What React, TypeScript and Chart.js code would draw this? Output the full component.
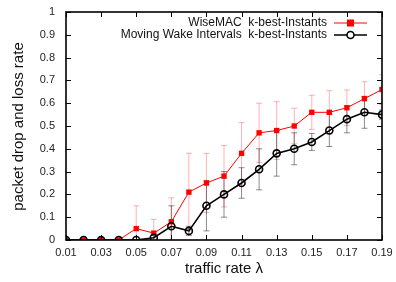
import React, { useEffect, useRef } from "react";
import { Chart, registerables } from "chart.js";
Chart.register(...registerables);

const rates = [0.01, 0.02, 0.03, 0.04, 0.05, 0.06, 0.07, 0.08, 0.09, 0.1, 0.11, 0.12, 0.13, 0.14, 0.15, 0.16, 0.17, 0.18, 0.19];
const wiseMAC = [0, 0, 0, 0, 0.05, 0.03, 0.08, 0.21, 0.25, 0.28, 0.38, 0.47, 0.48, 0.5, 0.56, 0.56, 0.58, 0.62, 0.66];
const wiseErr = [0, 0, 0, 0, 0.1, 0.06, 0.105, 0.17, 0.13, 0.135, 0.135, 0.13, 0.127, 0.078, 0.075, 0.095, 0.078, 0.074, 0.065];
const movingWake = [0, 0, 0, 0, 0, 0.01, 0.06, 0.04, 0.15, 0.2, 0.25, 0.31, 0.38, 0.4, 0.43, 0.48, 0.53, 0.56, 0.55];
const movingErr = [0, 0, 0.01, 0, 0, 0.01, 0.09, 0.02, 0.11, 0.1, 0.067, 0.09, 0.1, 0.07, 0.037, 0.07, 0.06, 0.07, 0.02];
const xTickValues = [0.01, 0.03, 0.05, 0.07, 0.09, 0.11, 0.13, 0.15, 0.17, 0.19];
const yTickValues = [0, 0.1, 0.2, 0.3, 0.4, 0.5, 0.6, 0.7, 0.8, 0.9, 1];
const seriesNames = ["WiseMAC  k-best-Instants", "Moving Wake Intervals  k-best-Instants"];
const xTitle = "traffic rate λ";
const yTitle = "packet drop and loss rate";

const FONT = "'Liberation Sans', Arial, Helvetica, sans-serif";
const RED = "#ff0000";
const RED_ERR = "rgba(255,0,0,0.3)";
const BLACK = "#000000";
const BLACK_ERR = "rgba(0,0,0,0.45)";

export default function App() {
  const ref = useRef<HTMLCanvasElement>(null);
  useEffect(() => {
    document.body.style.margin = "0";
    const canvas = ref.current;
    if (!canvas) return;

    const errPlugin = {
      id: "errbars",
      beforeDatasetsDraw(chart: any) {
        const { ctx, scales, chartArea } = chart;
        const x = scales.x, y = scales.y;
        ctx.save();
        ctx.beginPath();
        ctx.rect(chartArea.left, chartArea.top, chartArea.right - chartArea.left, chartArea.bottom - chartArea.top);
        ctx.clip();
        const draw = (vals: number[], errs: number[], color: string) => {
          ctx.strokeStyle = color;
          ctx.lineWidth = 1;
          for (let i = 0; i < rates.length; i++) {
            if (!errs[i]) continue;
            const px = x.getPixelForValue(rates[i]);
            const lo = vals[i] - errs[i];
            const hi = vals[i] + errs[i];
            const py1 = y.getPixelForValue(Math.max(0, lo));
            const py2 = y.getPixelForValue(hi);
            ctx.beginPath();
            ctx.moveTo(px, py1);
            ctx.lineTo(px, py2);
            ctx.moveTo(px - 3, py2);
            ctx.lineTo(px + 3, py2);
            if (lo > 0) {
              ctx.moveTo(px - 3, py1);
              ctx.lineTo(px + 3, py1);
            }
            ctx.stroke();
          }
        };
        draw(wiseMAC, wiseErr, RED_ERR);
        draw(movingWake, movingErr, BLACK_ERR);
        ctx.restore();
      },
    };

    const framePlugin = {
      id: "frame",
      afterDraw(chart: any) {
        const { ctx, scales, chartArea } = chart;
        const x = scales.x, y = scales.y;
        const { left, right, top, bottom } = chartArea;
        ctx.save();
        ctx.strokeStyle = "#000";
        ctx.lineWidth = 1;
        ctx.beginPath();
        for (const v of xTickValues) {
          const px = Math.round(x.getPixelForValue(v)) + 0.5;
          ctx.moveTo(px, bottom);
          ctx.lineTo(px, bottom - 5);
          ctx.moveTo(px, top);
          ctx.lineTo(px, top + 5);
        }
        for (const v of yTickValues) {
          const py = Math.round(y.getPixelForValue(v)) + 0.5;
          ctx.moveTo(left, py);
          ctx.lineTo(left + 5, py);
          ctx.moveTo(right, py);
          ctx.lineTo(right - 5, py);
        }
        ctx.stroke();
        ctx.lineWidth = 1.6;
        ctx.strokeRect(left, top, right - left, bottom - top);

        // axis titles
        ctx.fillStyle = "#111";
        ctx.font = `15px ${FONT}`;
        ctx.textAlign = "center";
        ctx.textBaseline = "middle";
        ctx.fillText(xTitle, (left + right) / 2, 269);
        ctx.save();
        ctx.translate(19, 126.5);
        ctx.rotate(-Math.PI / 2);
        ctx.fillText(yTitle, 0, 0);
        ctx.restore();

        // legend
        ctx.font = `12px ${FONT}`;
        ctx.textAlign = "right";
        ctx.fillStyle = "#111";
        const rows = [23, 35];
        const lx1 = 334, lx2 = 367, mx = 350.5;
        ctx.fillText(seriesNames[0], 327, rows[0]);
        ctx.fillText(seriesNames[1], 327, rows[1]);
        ctx.strokeStyle = RED;
        ctx.lineWidth = 1;
        ctx.beginPath();
        ctx.moveTo(lx1, rows[0]);
        ctx.lineTo(lx2, rows[0]);
        ctx.stroke();
        ctx.fillStyle = RED;
        ctx.fillRect(mx - 3.5, rows[0] - 3.5, 7, 7);
        ctx.strokeStyle = BLACK;
        ctx.lineWidth = 1.6;
        ctx.beginPath();
        ctx.moveTo(lx1, rows[1]);
        ctx.lineTo(lx2, rows[1]);
        ctx.stroke();
        ctx.beginPath();
        ctx.arc(mx, rows[1], 3.5, 0, Math.PI * 2);
        ctx.fillStyle = "#fff";
        ctx.fill();
        ctx.stroke();
        ctx.restore();
      },
    };

    const hiddenGrid = (len: number) => ({
      display: true,
      drawOnChartArea: false,
      drawTicks: true,
      tickLength: len,
      color: "rgba(0,0,0,0)",
    });

    const chart = new Chart(canvas, {
      type: "line",
      data: {
        datasets: [
          {
            label: seriesNames[1],
            data: rates.map((r, i) => ({ x: r, y: movingWake[i] })),
            borderColor: BLACK,
            borderWidth: 1.6,
            pointStyle: "circle",
            pointRadius: 3.5,
            pointBorderWidth: 1.6,
            pointBorderColor: BLACK,
            pointBackgroundColor: "rgba(255,255,255,0)",
            order: 0,
          },
          {
            label: seriesNames[0],
            data: rates.map((r, i) => ({ x: r, y: wiseMAC[i] })),
            borderColor: RED,
            borderWidth: 1,
            pointStyle: "rect",
            pointRadius: 3.8,
            pointBorderWidth: 0,
            pointBackgroundColor: RED,
            pointBorderColor: RED,
            order: 1,
          },
        ],
      },
      options: {
        responsive: false,
        animation: false,
        events: [],
        layout: { padding: { top: 12, right: 14, left: 0, bottom: 0 } },
        plugins: { legend: { display: false }, tooltip: { enabled: false } },
        scales: {
          x: {
            type: "linear",
            min: 0.01,
            max: 0.19,
            afterBuildTicks: (s: any) => {
              s.ticks = xTickValues.map((v) => ({ value: v }));
            },
            afterFit: (s: any) => {
              s.height = 42;
            },
            grid: hiddenGrid(6),
            border: { display: false },
            ticks: {
              padding: 0,
              color: "#222",
              font: { family: FONT, size: 11 },
              maxRotation: 0,
              autoSkip: false,
              callback: (v: any) => Number(v).toFixed(2),
            },
          },
          y: {
            type: "linear",
            min: 0,
            max: 1,
            afterBuildTicks: (s: any) => {
              s.ticks = yTickValues.map((v) => ({ value: v }));
            },
            afterFit: (s: any) => {
              s.width = 66;
            },
            grid: hiddenGrid(11),
            border: { display: false },
            ticks: {
              padding: 0,
              color: "#222",
              font: { family: FONT, size: 11 },
              autoSkip: false,
              callback: (v: any) => (v === 0 ? "0" : v === 1 ? "1" : Number(v).toFixed(1)),
            },
          },
        },
      },
      plugins: [errPlugin, framePlugin],
    } as any);
    return () => chart.destroy();
  }, []);
  return (
    <div style={{ position: "absolute", left: 0, top: 0, width: 396, height: 282 }}>
      <canvas ref={ref} width={396} height={282} />
    </div>
  );
}
